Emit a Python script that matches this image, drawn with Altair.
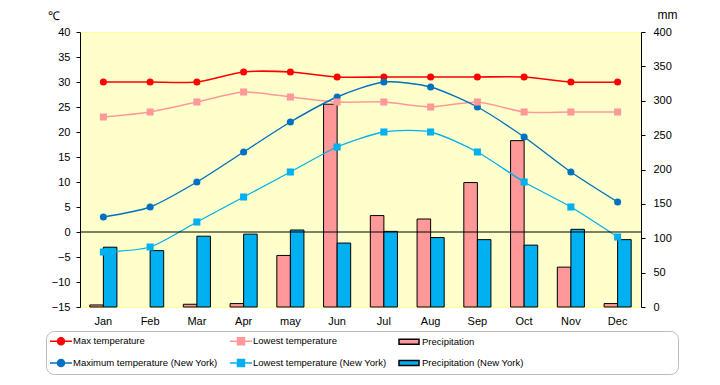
import altair as alt
import pandas as pd

months = ["Jan", "Feb", "Mar", "Apr", "may", "Jun", "Jul", "Aug", "Sep", "Oct", "Nov", "Dec"]
max_temp = [30, 30, 30, 32, 32, 31, 31, 31, 31, 31, 30, 30]
low_temp = [23, 24, 26, 28, 27, 26, 26, 25, 26, 24, 24, 24]
ny_max_temp = [3, 5, 10, 16, 22, 27, 30, 29, 25, 19, 12, 6]
ny_low_temp = [-4, -3, 2, 7, 12, 17, 20, 20, 16, 10, 5, -1]
precip = [3, 0, 4, 5, 75, 295, 133, 128, 181, 242, 58, 5]
ny_precip = [87, 82, 103, 106, 112, 93, 110, 101, 98, 90, 113, 98]

series = ["Max temperature", "Lowest temperature", "Precipitation",
          "Maximum temperature (New York)", "Lowest temperature (New York)",
          "Precipitation (New York)"]
fill_colors = ["#FF0000", "#FF9999", "#FF9999", "#0070C0", "#00B0F0", "#00B0F0"]
stroke_colors = ["#FF0000", "#FF9999", "#000000", "#0070C0", "#00B0F0", "#000000"]

# legend symbols (unit = sqrt(symbolSize)/2 px)
line_path_c = "M-1.2,0L3.2,0M0.3,0A0.7,0.7 0 1,0 1.7,0A0.7,0.7 0 1,0 0.3,0Z"
line_path_s = "M-1.2,0L3.2,0M0.3,-0.7L1.7,-0.7L1.7,0.7L0.3,0.7Z"
rect_path = "M-1.2,-0.5L2.8,-0.5L2.8,0.5L-1.2,0.5Z"
shapes = [line_path_c, line_path_s, rect_path, line_path_c, line_path_s, rect_path]

temp_rows = []
for name, vals in [(series[0], max_temp), (series[1], low_temp),
                   (series[3], ny_max_temp), (series[4], ny_low_temp)]:
    for m, v in zip(months, vals):
        temp_rows.append({"month": m, "series": name, "value": v})
temp_df = pd.DataFrame(temp_rows)

prec_rows = []
for name, vals in [(series[2], precip), (series[5], ny_precip)]:
    for m, v in zip(months, vals):
        prec_rows.append({"month": m, "series": name, "value": v})
prec_df = pd.DataFrame(prec_rows)

legend_df = pd.DataFrame({"label": series, "month": [months[0]] * 6, "value": [0] * 6})
zero_df = pd.DataFrame({"value": [0]})

# color scale for the plotted marks (different order from the legend domain so
# that its disabled legend does not swallow the combined legend)
order_c = [0, 1, 3, 4, 2, 5]
color_scale = alt.Scale(domain=[series[i] for i in order_c],
                        range=[fill_colors[i] for i in order_c])

x_enc = alt.X("month:N", sort=months,
              scale=alt.Scale(domain=months, paddingInner=0.42, paddingOuter=0.21),
              axis=alt.Axis(title=None, labelAngle=0, domain=False, ticks=False,
                            labelPadding=8, labelFontSize=11, labelColor="black"))

y_temp_axis = alt.Axis(values=list(range(-15, 41, 5)), grid=False, tickSize=4,
                       labelOverlap=False, labelPadding=6, labelFontSize=11, labelColor="black",
                       domainColor="black", tickColor="black", orient="left",
                       title="℃", titleAngle=0, titleX=-27, titleY=-17,
                       titleAlign="center", titleBaseline="middle",
                       titleFontWeight="normal", titleFontSize=12)
y_temp = alt.Y("value:Q", scale=alt.Scale(domain=[-15, 40], nice=False, zero=False),
               axis=y_temp_axis)

bars = alt.Chart(prec_df).transform_filter(alt.datum.value > 0).mark_bar(
    stroke="black", strokeWidth=1
).encode(
    x=x_enc,
    xOffset=alt.XOffset("series:N", sort=[series[2], series[5]],
                        scale=alt.Scale(domain=[series[2], series[5]], paddingInner=0, paddingOuter=0)),
    y=alt.Y("value:Q", scale=alt.Scale(domain=[0, 400], nice=False),
            axis=alt.Axis(orient="right", values=list(range(0, 401, 50)), grid=False,
                          labelOverlap=False,
                          tickSize=4, labelPadding=8, labelFontSize=11, labelColor="black",
                          domainColor="black", tickColor="black",
                          title="mm", titleAngle=0, titleX=26, titleY=-18,
                          titleAlign="center", titleBaseline="middle",
                          titleFontWeight="normal", titleFontSize=12)),
    color=alt.Color("series:N", scale=color_scale, legend=None),
)

lines = alt.Chart(temp_df).mark_line(interpolate="cardinal", tension=0.3).encode(
    x=x_enc, y=y_temp,
    color=alt.Color("series:N", scale=color_scale, legend=None),
    strokeWidth=alt.StrokeWidth("series:N",
                                scale=alt.Scale(domain=[series[0], series[1], series[3], series[4]],
                                                range=[1.6, 1.3, 1.1, 1.1]),
                                legend=None),
)

circles = alt.Chart(temp_df).transform_filter(
    alt.FieldOneOfPredicate(field="series", oneOf=[series[0], series[3]])
).mark_point(shape="circle", filled=True, size=50, opacity=1).encode(
    x=x_enc, y=y_temp, color=alt.Color("series:N", scale=color_scale, legend=None))

squares = alt.Chart(temp_df).transform_filter(
    alt.FieldOneOfPredicate(field="series", oneOf=[series[1], series[4]])
).mark_point(shape="square", filled=True, size=50, opacity=1).encode(
    x=x_enc, y=y_temp, color=alt.Color("series:N", scale=color_scale, legend=None))

zero_rule = alt.Chart(zero_df).mark_rule(color="black", strokeWidth=1).encode(y=y_temp)

leg_def = alt.Legend(orient="none", legendX=-34, legendY=299, columns=3, direction="horizontal",
                     columnPadding=9, rowPadding=8, symbolSize=100,
                     symbolStrokeWidth=1.5, symbolOpacity=1, labelOffset=11,
                     labelFontSize=9.5, labelColor="black", labelLimit=300, padding=4,
                     strokeColor="#BBBBBB", cornerRadius=8, fillColor="white",
                     title="\u00a0", titleOrient="right", titlePadding=150)

legend_pts = alt.Chart(legend_df).mark_point(filled=True, opacity=0).encode(
    x=x_enc, y=y_temp,
    fill=alt.Fill("label:N", scale=alt.Scale(domain=series, range=fill_colors), legend=leg_def),
    stroke=alt.Stroke("label:N", scale=alt.Scale(domain=series, range=stroke_colors), legend=leg_def),
    shape=alt.Shape("label:N", scale=alt.Scale(domain=series, range=shapes), legend=leg_def),
)

temp_layer = alt.layer(lines, circles, squares, zero_rule, legend_pts)

chart = alt.layer(bars, temp_layer).resolve_scale(y="independent").properties(
    width=561, height=275,
    autosize=alt.AutoSizeParams(type="none"),
    padding={"left": 72, "top": 24, "right": 71, "bottom": 70},
).configure(font="Liberation Sans").configure_view(
    fill="#FFFFCC", stroke="#FFFF99"
)

chart.save("out.html", embed_options={"renderer": "svg", "actions": False})
